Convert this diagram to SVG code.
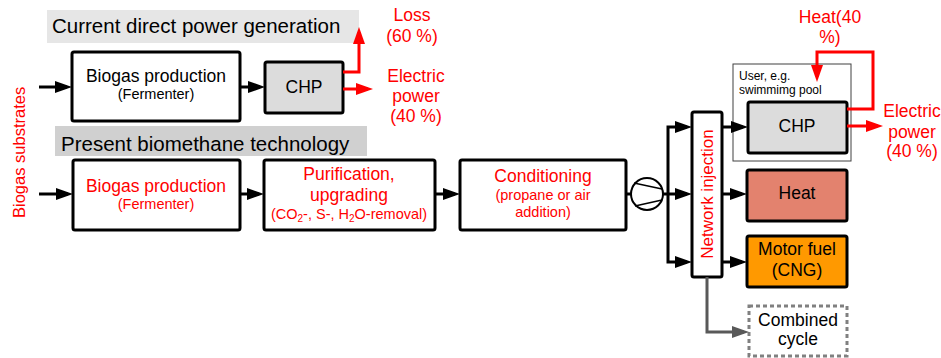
<svg xmlns="http://www.w3.org/2000/svg" width="941" height="358" viewBox="0 0 941 358">
<defs>
<style>
text{font-family:"Liberation Sans",Arial,sans-serif;}
.box{stroke:#000;stroke-width:3;fill:#fff;}
.chp{fill:#dcdcdc;}
.heatf{fill:#e3826e;}
.fuelf{fill:#ff9900;}
.t{font-size:17.5px;fill:#000;text-anchor:middle;}
.s{font-size:14.5px;fill:#000;text-anchor:middle;}
.r{fill:#ff0000;}
.title{font-size:20.5px;fill:#000;}
.c{fill:none;stroke-width:3;}
.cb{stroke:#000;marker-end:url(#ab);}
.cr{stroke:#ff0000;marker-end:url(#ar);}
.cg{stroke:#595959;marker-end:url(#ag);}
</style>
<marker id="ab" markerUnits="userSpaceOnUse" markerWidth="17" markerHeight="12" refX="12" refY="6" orient="auto"><path d="M0,0 L17,6 L0,12 z" fill="#000"/></marker>
<marker id="ar" markerUnits="userSpaceOnUse" markerWidth="17" markerHeight="12" refX="12" refY="6" orient="auto"><path d="M0,0 L17,6 L0,12 z" fill="#ff0000"/></marker>
<marker id="ag" markerUnits="userSpaceOnUse" markerWidth="17" markerHeight="12" refX="12" refY="6" orient="auto"><path d="M0,0 L17,6 L0,12 z" fill="#595959"/></marker>
</defs>
<rect width="941" height="358" fill="#fff"/>

<g id="title1"><rect x="47" y="10" width="312" height="33" fill="#e6e6e6"/><text class="title" x="52" y="33">Current direct power generation</text></g>
<g id="title2"><rect x="55" y="126" width="312" height="30" fill="#d0d0d0"/><text class="title" x="61" y="151">Present biomethane technology</text></g>

<g id="substrates"><text class="r" font-size="16.5" transform="translate(25,218) rotate(-90)">Biogas substrates</text></g>

<g id="biogas1"><rect class="box" x="72" y="52" width="168" height="69" rx="2"/><text class="t" x="156" y="82">Biogas production</text><text class="s" x="156" y="99">(Fermenter)</text></g>
<g id="chp1"><rect class="box chp" x="265" y="62" width="78" height="51" rx="2"/><text class="t" x="304" y="93">CHP</text></g>
<g id="loss1"><text class="t r" x="412" y="21">Loss</text><text class="t r" x="412" y="42">(60 %)</text></g>
<g id="elec1"><text class="t r" x="416" y="82">Electric</text><text class="t r" x="416" y="102">power</text><text class="t r" x="416" y="122">(40 %)</text></g>

<g id="biogas2"><rect class="box" x="73" y="160" width="167" height="70" rx="2"/><text class="t r" x="156" y="192">Biogas production</text><text class="s r" x="156" y="209">(Fermenter)</text></g>
<g id="purification"><rect class="box" x="264" y="160" width="171" height="70" rx="2"/><text class="t r" x="349" y="180">Purification,</text><text class="t r" x="349" y="201">upgrading</text><text class="s r" x="349" y="219">(CO<tspan font-size="10" dy="3">2</tspan><tspan dy="-3">-, S-, H</tspan><tspan font-size="10" dy="3">2</tspan><tspan dy="-3">O-removal)</tspan></text></g>
<g id="conditioning"><rect class="box" x="460" y="160" width="166" height="70" rx="2"/><text class="t r" x="543" y="182">Conditioning</text><text class="s r" x="543" y="200">(propane or air</text><text class="s r" x="543" y="217">addition)</text></g>
<g id="compressor"><circle cx="647" cy="194" r="16" fill="#fff" stroke="#000" stroke-width="2"/><path d="M634,183 L662,189 M635,206 L662,200" stroke="#000" stroke-width="1.5" fill="none"/></g>
<g id="network"><rect class="box" x="692" y="112" width="30" height="165" rx="2"/><text class="r" font-size="17" text-anchor="middle" transform="translate(713,194) rotate(-90)">Network injection</text></g>

<g id="user"><rect x="733" y="64" width="118" height="97" fill="#fff" stroke="#404040" stroke-width="1"/><text font-size="12" x="739" y="80">User, e.g.</text><text font-size="12" x="739" y="94">swimmimg pool</text></g>
<g id="chp2"><rect class="box chp" x="748" y="102" width="99" height="51" rx="2"/><text class="t" x="797" y="132">CHP</text></g>
<g id="heat2label"><text class="t r" x="830" y="23">Heat(40</text><text class="t r" x="830" y="43">%)</text></g>
<g id="elec2"><text class="t r" x="912" y="117">Electric</text><text class="t r" x="912" y="138">power</text><text class="t r" x="912" y="157">(40 %)</text></g>
<g id="heat"><rect class="box heatf" x="747" y="170" width="100" height="51" rx="2"/><text class="t" x="797" y="199">Heat</text></g>
<g id="motorfuel"><rect class="box fuelf" x="747" y="236" width="100" height="51" rx="2"/><text class="t" x="797" y="255">Motor fuel</text><text class="t" x="797" y="276">(CNG)</text></g>
<g id="combined"><rect x="749" y="306" width="98" height="50" fill="#fff" stroke="#808080" stroke-width="3" stroke-dasharray="4 3"/><text class="t" x="798" y="326">Combined</text><text class="t" x="798" y="345">cycle</text></g>

<g id="connectors">
<path class="c cb" d="M39,87 H67"/>
<path class="c cb" d="M240,87 H260"/>
<path class="c cb" d="M39,194 H68"/>
<path class="c cb" d="M240,194 H259"/>
<path class="c cb" d="M435,194 H455"/>
<path class="c" stroke="#000" d="M626,194 H631"/>
<path class="c cb" d="M663,194 H687"/>
<path class="c cb" d="M668,194 V127 H687"/>
<path class="c cb" d="M668,194 V262 H687"/>
<path class="c cb" d="M722,127 H743"/>
<path class="c cb" d="M722,194 H742"/>
<path class="c cb" d="M722,262 H742"/>
<path class="c cr" d="M343,72 H359 V32"/>
<path class="c cr" d="M343,89 H368"/>
<path class="c cr" d="M847,109 H873 V52 H817 V77"/>
<path class="c cr" d="M847,126 H878"/>
<path class="c cg" d="M707,277 V332 H744"/>
</g>
</svg>
